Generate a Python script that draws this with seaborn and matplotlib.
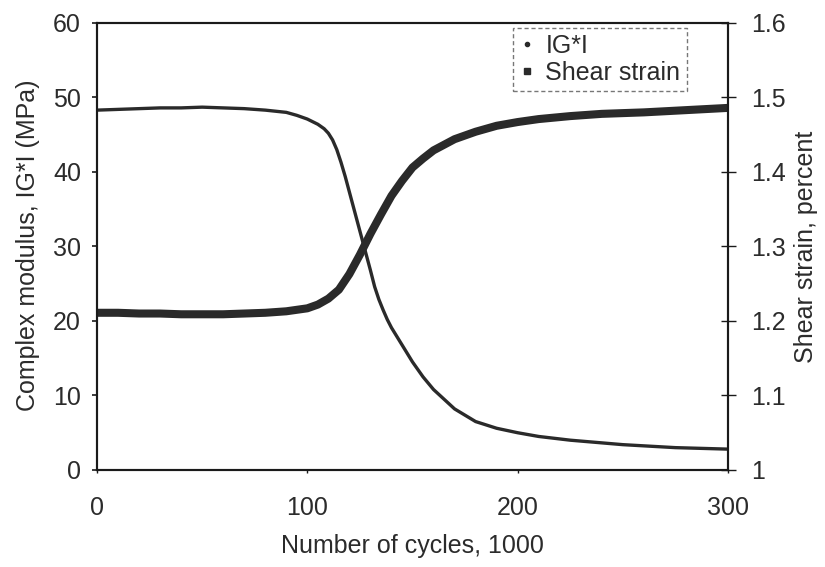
import matplotlib
matplotlib.use("Agg")
import matplotlib.pyplot as plt
from matplotlib.lines import Line2D
import seaborn as sns
import pandas as pd

# Complex modulus |G*| (MPa) against load cycles (thousands)
cycles_g = [0, 10, 20, 30, 40, 50, 60, 70, 80, 90, 95, 100, 105, 108, 110,
            112, 114, 116, 118, 120, 122, 124, 126, 128, 130, 132, 134, 136,
            138, 140, 145, 150, 155, 160, 170, 180, 190, 200, 210, 225, 250,
            275, 300]
modulus = [48.3, 48.4, 48.5, 48.6, 48.6, 48.7, 48.6, 48.5, 48.3, 48.0, 47.6,
           47.1, 46.4, 45.8, 45.2, 44.3, 43.0, 41.3, 39.4, 37.3, 35.2, 33.1,
           31.0, 28.9, 26.8, 24.6, 22.9, 21.5, 20.2, 19.1, 16.8, 14.5, 12.5,
           10.8, 8.2, 6.5, 5.6, 5.0, 4.5, 4.0, 3.4, 3.0, 2.8]

# Shear strain (percent) against load cycles (thousands)
cycles_s = [0, 10, 20, 30, 40, 50, 60, 70, 80, 90, 100, 105, 110, 115, 120,
            125, 130, 135, 140, 145, 150, 155, 160, 170, 180, 190, 200, 210,
            225, 240, 260, 280, 300]
strain = [1.211, 1.211, 1.210, 1.210, 1.209, 1.209, 1.209, 1.210, 1.211,
          1.213, 1.217, 1.222, 1.230, 1.242, 1.263, 1.289, 1.317, 1.343,
          1.368, 1.388, 1.406, 1.418, 1.429, 1.444, 1.454, 1.462, 1.467,
          1.471, 1.475, 1.478, 1.480, 1.483, 1.486]

x_ticks = [0, 100, 200, 300]
left_ticks = [0, 10, 20, 30, 40, 50, 60]
right_ticks = [1.0, 1.1, 1.2, 1.3, 1.4, 1.5, 1.6]
right_tick_labels = ["1", "1.1", "1.2", "1.3", "1.4", "1.5", "1.6"]

sns.set_style("ticks")
plt.rcParams["font.family"] = ["Liberation Sans", "DejaVu Sans"]
text_color = "#2b2b2b"
line_color = "#2a2a2a"
fs = 18

fig = plt.figure(figsize=(8.25, 5.67), dpi=100)
ax = fig.add_axes([0.1176, 0.1711, 0.7648, 0.7884])
ax2 = ax.twinx()

df_g = pd.DataFrame({"cycles": cycles_g, "modulus": modulus})
df_s = pd.DataFrame({"cycles": cycles_s, "strain": strain})

sns.lineplot(data=df_s, x="cycles", y="strain", ax=ax2, color=line_color,
             linewidth=5.8, legend=False, solid_capstyle="butt")
sns.lineplot(data=df_g, x="cycles", y="modulus", ax=ax, color=line_color,
             linewidth=2.4, legend=False)
ax.set_zorder(ax2.get_zorder() + 1)
ax.patch.set_visible(False)

ax.set_xlim(0, 300)
ax.set_ylim(0, 60)
ax2.set_ylim(1.0, 1.6)
ax.set_xticks(x_ticks)
ax.set_yticks(left_ticks)
ax2.set_yticks(right_ticks)
ax2.set_yticklabels(right_tick_labels)

for a in (ax, ax2):
    for sp in a.spines.values():
        sp.set_visible(True)
        sp.set_linewidth(1.5)
        sp.set_color("#1a1a1a")

ax.tick_params(axis="x", direction="out", length=2.5, width=1, pad=16,
               labelsize=fs, labelcolor=text_color, color="#1a1a1a")
ax.tick_params(axis="y", direction="out", length=3.6, width=1.2, pad=8,
               labelsize=fs, labelcolor=text_color, color="#1a1a1a")
ax2.tick_params(axis="y", direction="inout", length=10.8, width=1, pad=11,
                labelsize=fs, labelcolor=text_color, color="#1a1a1a")

ax.set_xlabel("Number of cycles, 1000", fontsize=fs, color=text_color)
ax.xaxis.set_label_coords(0.5, -0.143)
ax.xaxis.label.set_va("top")

ax.set_ylabel("Complex modulus, IG*I (MPa)", fontsize=fs, color=text_color)
ax.yaxis.set_label_coords(-0.109, 0.502)
ax.yaxis.label.set_va("center")

ax2.set_ylabel("Shear strain, percent", fontsize=fs, color=text_color,
               rotation=90)
ax2.yaxis.set_label_coords(1.124, 0.50)
ax2.yaxis.label.set_va("center")

handles = [
    Line2D([], [], linestyle="none", marker="o", markersize=3,
           color=line_color, label="IG*I"),
    Line2D([], [], linestyle="none", marker="s", markersize=5,
           color=line_color, label="Shear strain"),
]
leg = ax.legend(handles=handles, loc="upper left",
                bbox_to_anchor=(0.659, 0.989), fontsize=fs,
                frameon=True, fancybox=False, handlelength=0.6,
                handletextpad=0.45, labelspacing=0.1, borderpad=0.25,
                borderaxespad=0.0)
frame = leg.get_frame()
frame.set_edgecolor("#555555")
frame.set_linestyle((0, (3, 2)))
frame.set_linewidth(1.0)
frame.set_facecolor("white")
for t in leg.get_texts():
    t.set_color(text_color)

fig.savefig("out.png", dpi=100)
